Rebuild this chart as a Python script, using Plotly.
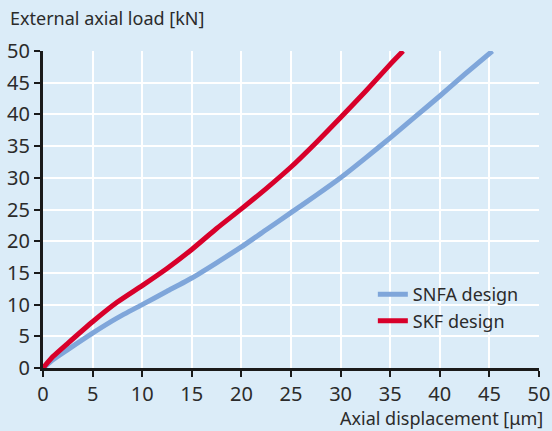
import plotly.graph_objects as go

snfa_x = [0, 1, 2.5, 5, 7.5, 10, 12.5, 15, 17.5, 20, 22.5, 25, 27.5, 30, 32.5, 35, 37.5, 40, 42.5, 45.3]
snfa_y = [0, 1.3, 2.9, 5.5, 7.9, 10.0, 12.1, 14.2, 16.6, 19.1, 21.8, 24.5, 27.2, 30.0, 33.1, 36.3, 39.6, 42.9, 46.3, 50]

skf_x = [0, 1, 2.5, 5, 7.5, 10, 12.5, 15, 17.5, 20, 22.5, 25, 27.5, 30, 32.5, 35, 36.3]
skf_y = [0, 1.8, 3.9, 7.3, 10.4, 13.0, 15.7, 18.7, 22.0, 25.1, 28.3, 31.7, 35.5, 39.5, 43.6, 47.9, 50]

ticks = [0, 5, 10, 15, 20, 25, 30, 35, 40, 45, 50]

BG = "#dbecf8"
FONT = "Noto Sans"
TXT = "#2b2b2b"

fig = go.Figure()
fig.add_trace(go.Scatter(x=snfa_x, y=snfa_y, mode="lines", name="SNFA design",
                         line=dict(color="#7fa6da", width=5, shape="spline", smoothing=0.5),
                         cliponaxis=False))
fig.add_trace(go.Scatter(x=skf_x, y=skf_y, mode="lines", name="SKF design",
                         line=dict(color="#d8002a", width=5, shape="spline", smoothing=0.5),
                         cliponaxis=False))

axis_common = dict(range=[0, 50], tickvals=ticks, showgrid=True, gridcolor="white", gridwidth=2,
                   zeroline=False, showline=True, linecolor="#1a1a1a", linewidth=3,
                   ticks="outside", ticklen=6, tickwidth=2, tickcolor="#1a1a1a", automargin=False,
                   tickfont=dict(family=FONT, size=20, color=TXT))

fig.update_layout(
    width=552, height=431,
    paper_bgcolor=BG, plot_bgcolor=BG,
    margin=dict(l=43, r=13, t=51, b=63),
    font=dict(family=FONT, color=TXT),
    xaxis=dict(**axis_common),
    yaxis=dict(**axis_common),
    showlegend=True,
    legend=dict(x=0.665, y=0.29, xanchor="left", yanchor="top", bgcolor="rgba(0,0,0,0)",
                font=dict(family=FONT, size=18, color=TXT), tracegroupgap=0),
    annotations=[
        dict(text="External axial load [kN]", xref="paper", yref="paper", x=-35/496, y=(368-18)/317,
             xanchor="left", yanchor="middle", showarrow=False,
             font=dict(family=FONT, size=18, color=TXT)),
        dict(text="Axial displacement [μm]", xref="paper", yref="paper", x=1.012, y=-50/317,
             xanchor="right", yanchor="middle", showarrow=False,
             font=dict(family=FONT, size=18, color=TXT)),
    ],
)

fig.write_html("out.html", config={"displayModeBar": False},
               post_script="document.body.style.margin='0';document.body.style.overflow='hidden';")
